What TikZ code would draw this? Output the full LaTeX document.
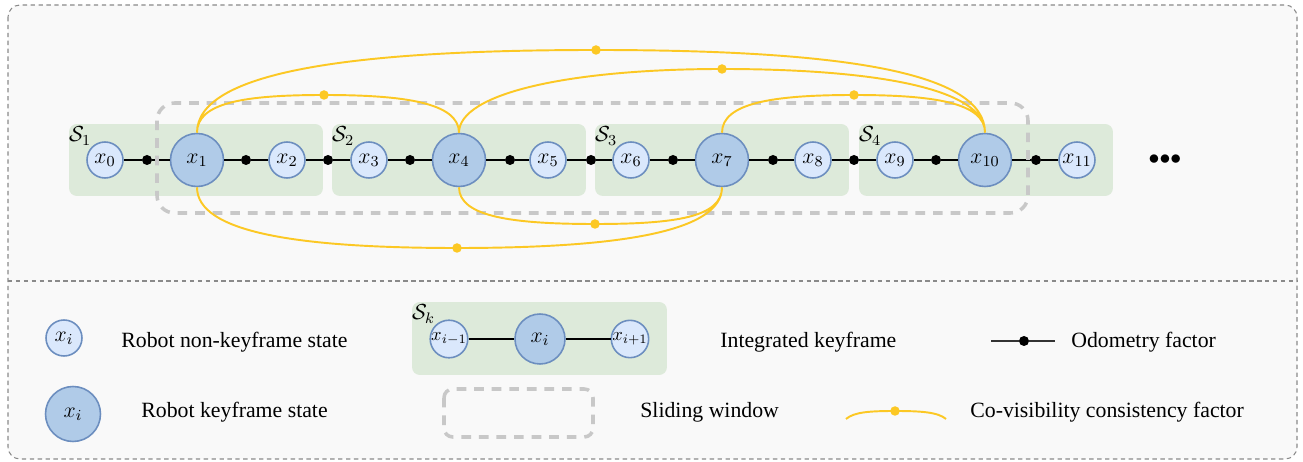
\RequirePackage{fix-cm}
\documentclass[tikz,border=0pt]{standalone}
\usepackage[no-math]{fontspec}
\setmainfont{Liberation Serif}

\definecolor{bgc}{HTML}{F9F9F9}
\definecolor{framegray}{HTML}{8A8A8A}
\definecolor{segfill}{HTML}{DDEADA}
\definecolor{nkfill}{HTML}{DAE8FC}
\definecolor{kfill}{HTML}{B0CBE8}
\definecolor{nodeline}{HTML}{6C8EBF}
\definecolor{wingray}{HTML}{C8C8C8}
\definecolor{covis}{HTML}{FCC824}

\newcommand{\nkn}{\node[nonkey]}
\newcommand{\kfn}{\node[keyst]}
\newcommand{\odn}{\node[odot]}
\newcommand{\cvn}{\node[cdot]}

\tikzset{
    nonkey/.style={circle, draw=nodeline, fill=nkfill, line width=0.9pt, minimum size=0.72cm, inner sep=0pt},
    keyst/.style={circle, draw=nodeline, fill=kfill, line width=0.9pt, minimum size=1.06cm, inner sep=0pt},
    odot/.style={circle, fill=black, minimum size=0.2cm, inner sep=0pt},
    cdot/.style={circle, fill=covis, minimum size=0.19cm, inner sep=0pt},
    odo/.style={line width=1.1pt, draw=black},
    covisline/.style={line width=1.1pt, draw=covis},
    segbox/.style={rectangle, fill=segfill, rounded corners=4.5pt, minimum width=5.08cm, minimum height=1.44cm, inner sep=0pt},
    seglbl/.style={anchor=north west, inner sep=0pt},
    window/.style={draw=wingray, line width=2pt, dash pattern=on 5.5pt off 4.5pt},
    outerframe/.style={draw=framegray, line width=0.6pt, dash pattern=on 2.5pt off 2pt},
    txt/.style={anchor=base west, inner sep=0pt},
    smallsub/.style={font=\fontsize{10.5}{12}\selectfont},
}

\begin{document}
\begin{tikzpicture}[x=0.02cm, y=-0.02cm, font=\fontsize{12.4}{15}\selectfont]
    \useasboundingbox (0,0) rectangle (1303,462);
    \draw[outerframe, fill=bgc, rounded corners=6.8pt] (8,5) rectangle (1297,459);
    \draw[outerframe] (8,281) -- (1297,281);

    % segments
    \node[segbox] (s1) at (196,160) {};
    \node[segbox] (s2) at (459,160) {};
    \node[segbox] (s3) at (722,160) {};
    \node[segbox] (s4) at (986,160) {};
    \node[seglbl] (l1) at ([shift={(0,3)}]s1.north west) {$\mathcal{S}_1$};
    \node[seglbl] (l2) at ([shift={(0,3)}]s2.north west) {$\mathcal{S}_2$};
    \node[seglbl] (l3) at ([shift={(0,3)}]s3.north west) {$\mathcal{S}_3$};
    \node[seglbl] (l4) at ([shift={(0,3)}]s4.north west) {$\mathcal{S}_4$};

    % states
    \nkn (x0) at (105,160) {$x_0$};
    \kfn (x1) at (197,160) {$x_1$};
    \nkn (x2) at (287,160) {$x_2$};
    \nkn (x3) at (369,160) {$x_3$};
    \kfn (x4) at (459,160) {$x_4$};
    \nkn (x5) at (548,160) {$x_5$};
    \nkn (x6) at (631,160) {$x_6$};
    \kfn (x7) at (722,160) {$x_7$};
    \nkn (x8) at (813,160) {$x_8$};
    \nkn (x9) at (895,160) {$x_9$};
    \kfn (x10) at (985,160) {$x_{10}$};
    \nkn (x11) at (1077,160) {$x_{11}$};
    \node (more) at (1165,160) {${\bullet}{\bullet}{\bullet}$};

    % odometry factors
    \odn (o1) at (147,160) {};
    \odn (o2) at (246,160) {};
    \odn (o3) at (328,160) {};
    \odn (o4) at (410,160) {};
    \odn (o5) at (510,160) {};
    \odn (o6) at (591,160) {};
    \odn (o7) at (673,160) {};
    \odn (o8) at (773,160) {};
    \odn (o9) at (854,160) {};
    \odn (o10) at (936,160) {};
    \odn (o11) at (1036,160) {};

    \draw[odo]
        (x0) -- (o1) -- (x1) -- (o2) -- (x2) -- (o3) -- (x3) -- (o4) -- (x4)
        (x4) -- (o5) -- (x5) -- (o6) -- (x6) -- (o7) -- (x7) -- (o8) -- (x8)
        (x8) -- (o9) -- (x9) -- (o10) -- (x10) -- (o11) -- (x11)
        ;

    % sliding window
    \draw[window, rounded corners=10pt] (157,103) rectangle (1028,213);

    % co-visibility factors
    \cvn (c14) at (324,95) {};
    \cvn (c110) at (596,50) {};
    \cvn (c410) at (722,69) {};
    \cvn (c710) at (854,95) {};
    \cvn (c47) at (595,224) {};
    \cvn (c17) at (457,248) {};

    \draw[covisline]
        (x1.north) .. controls +(0,-30) and +(-80,0) .. (c14.center)
                   .. controls +(80,0) and +(0,-30) .. (x4.north)
        (x1.north) .. controls +(0,-60) and +(-250,0) .. (c110.center)
                   .. controls +(250,0) and +(0,-60) .. (x10.north)
        (x4.north) .. controls +(0,-40) and +(-150,0) .. (c410.center)
                   .. controls +(150,0) and +(0,-45) .. (x10.north)
        (x7.north) .. controls +(0,-30) and +(-80,0) .. (c710.center)
                   .. controls +(80,0) and +(0,-30) .. (x10.north)
        (x4.south) .. controls +(0,30) and +(-80,0) .. (c47.center)
                   .. controls +(80,0) and +(0,30) .. (x7.south)
        (x1.south) .. controls +(0,45) and +(-160,0) .. (c17.center)
                   .. controls +(160,0) and +(0,45) .. (x7.south)
        ;

    % legend
    \nkn (lnk) at (64,338) {$x_i$};
    \node[txt] (tnk) at (121,347.5) {Robot non-keyframe state};
    \kfn[minimum size=1.1cm] (lkf) at (73,414) {$x_i$};
    \node[txt] (tkf) at (141,418) {Robot keyframe state};

    \node[segbox, minimum width=5.1cm, minimum height=1.46cm] (lseg) at (539.5,338.5) {};
    \node[seglbl] (lsk) at ([shift={(0,3)}]lseg.north west) {$\mathcal{S}_k$};
    \nkn[smallsub] (lxa) at (449,339) {$x_{i-1}$};
    \kfn[minimum size=1.0cm] (lxb) at (540,339) {$x_i$};
    \nkn[smallsub] (lxc) at (630,339) {$x_{i+1}$};
    \draw[odo] (lxa) -- (lxb) -- (lxc);
    \node[txt] (tseg) at (720,347.5) {Integrated keyframe};

    \coordinate (odl) at (991,341);
    \coordinate (odr) at (1055,341);
    \odn (odm) at (1024,341) {};
    \draw[odo, draw=black!80] (odl) -- (odm) -- (odr);
    \node[txt] (tod) at (1071,347.5) {Odometry factor};

    \draw[window, rounded corners=5pt] (444,389) rectangle (593,437);
    \node[txt] (twin) at (640,418) {Sliding window};

    \coordinate (cvl) at (846,419);
    \coordinate (cvr) at (946,419);
    \cvn (cvm) at (895,411) {};
    \draw[covisline] (cvl) .. controls +(8,-7) and +(-25,0) .. (cvm.center)
                     .. controls +(25,0) and +(-8,-7) .. (cvr);
    \node[txt] (tcv) at (970,418) {Co-visibility consistency factor};
\end{tikzpicture}
\end{document}
